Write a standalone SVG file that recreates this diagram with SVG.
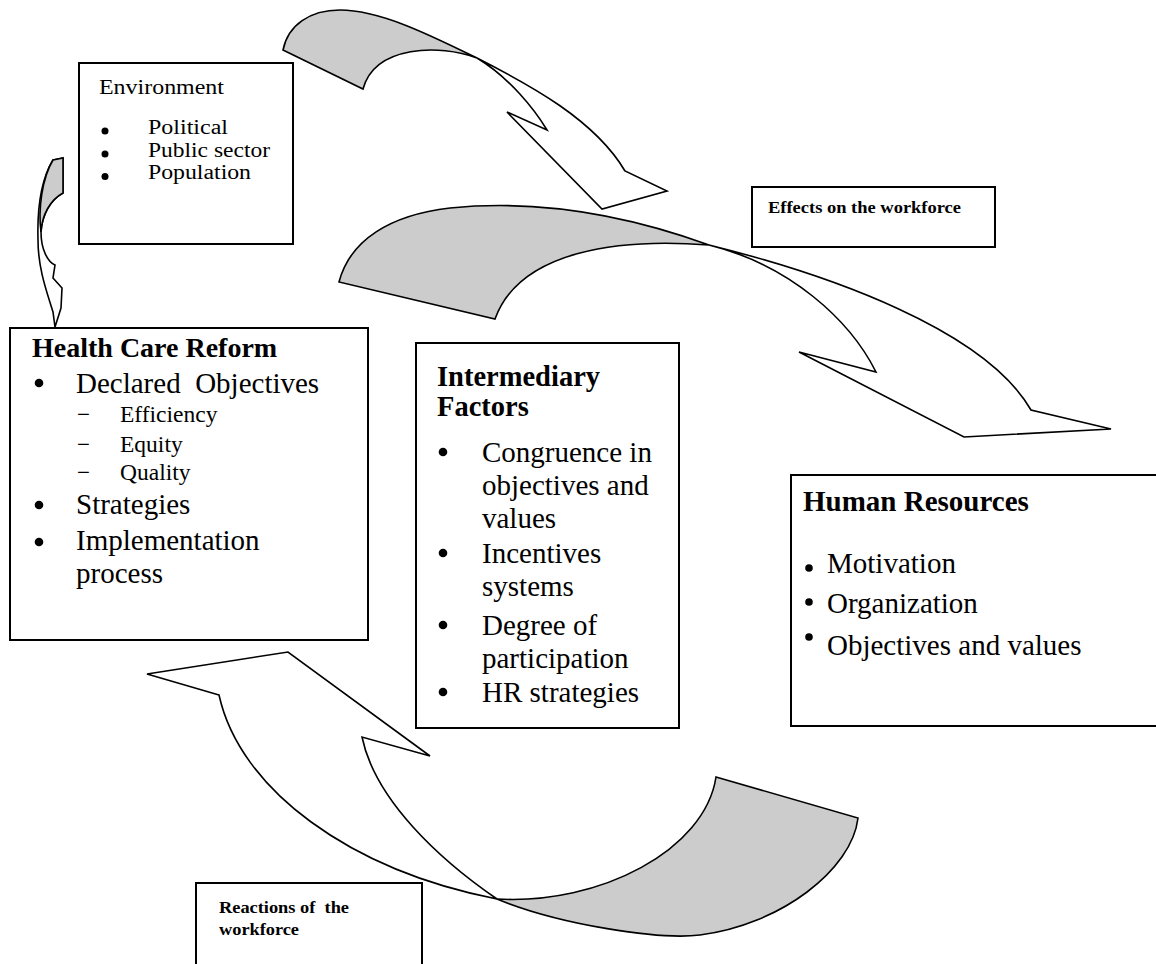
<svg xmlns="http://www.w3.org/2000/svg" width="1156" height="964" viewBox="0 0 1156 964">
<style>
.box{fill:#fff;stroke:#000;stroke-width:2}
.arw{fill:#fff;stroke:#000;stroke-width:1.6;stroke-linejoin:miter}
.back{fill:#cccccc;stroke:#000;stroke-width:1.6}
.t{font-family:"Liberation Serif","Times New Roman",serif;fill:#000}
.b{font-weight:bold}
.pre{white-space:pre}
</style>
<rect width="1156" height="964" fill="#fff"/>

<g id="environment">
<rect class="box" x="79" y="63" width="214" height="181"/>
<text class="t" x="99" y="94" font-size="20" textLength="125" lengthAdjust="spacingAndGlyphs">Environment</text>
<circle cx="105" cy="131" r="3.5"/><circle cx="105" cy="154" r="3.5"/><circle cx="105" cy="176.5" r="3.5"/>
<text class="t" x="148" y="134" font-size="20" textLength="80" lengthAdjust="spacingAndGlyphs">Political</text>
<text class="t" x="148" y="157" font-size="20" textLength="122" lengthAdjust="spacingAndGlyphs">Public sector</text>
<text class="t" x="148" y="179" font-size="20" textLength="103" lengthAdjust="spacingAndGlyphs">Population</text>
</g>

<g id="effects">
<rect class="box" x="752" y="187" width="243" height="60"/>
<text class="t b" x="768" y="213" font-size="16" textLength="193" lengthAdjust="spacingAndGlyphs">Effects on the workforce</text>
</g>

<g id="reactions">
<rect class="box" x="196" y="883" width="226" height="90"/>
<text class="t b pre" x="219" y="913" font-size="16" textLength="130" lengthAdjust="spacingAndGlyphs">Reactions of  the</text>
<text class="t b" x="219" y="935" font-size="16" textLength="80" lengthAdjust="spacingAndGlyphs">workforce</text>
</g>

<g id="health-care-reform">
<rect class="box" x="10" y="328" width="358" height="312"/>
<text class="t b" x="32" y="357" font-size="28">Health Care Reform</text>
<circle cx="39" cy="383" r="4.3"/><circle cx="39" cy="505" r="4.3"/><circle cx="39" cy="542" r="4.3"/>
<text class="t pre" x="76" y="393" font-size="29">Declared  Objectives</text>
<text class="t" x="77" y="422" font-size="23">−</text>
<text class="t" x="77" y="452" font-size="23">−</text>
<text class="t" x="77" y="480" font-size="23">−</text>
<text class="t" x="120" y="422" font-size="23.5">Efficiency</text>
<text class="t" x="120" y="452" font-size="23.5">Equity</text>
<text class="t" x="120" y="480" font-size="23.5">Quality</text>
<text class="t" x="76" y="514" font-size="29">Strategies</text>
<text class="t" x="76" y="550" font-size="29">Implementation</text>
<text class="t" x="76" y="583" font-size="29">process</text>
</g>

<g id="intermediary-factors">
<rect class="box" x="416" y="343" width="263" height="385"/>
<text class="t b" x="437" y="386" font-size="28.5">Intermediary</text>
<text class="t b" x="437" y="416" font-size="28.5">Factors</text>
<circle cx="443" cy="452" r="4.3"/><circle cx="443" cy="553" r="4.3"/><circle cx="443" cy="625" r="4.3"/><circle cx="443" cy="692" r="4.3"/>
<text class="t" x="482" y="462" font-size="29">Congruence in</text>
<text class="t" x="482" y="495" font-size="29">objectives and</text>
<text class="t" x="482" y="528" font-size="29">values</text>
<text class="t" x="482" y="563" font-size="29">Incentives</text>
<text class="t" x="482" y="596" font-size="29">systems</text>
<text class="t" x="482" y="635" font-size="29">Degree of</text>
<text class="t" x="482" y="668" font-size="29">participation</text>
<text class="t" x="482" y="702" font-size="29">HR strategies</text>
</g>

<g id="human-resources">
<rect class="box" x="791" y="475" width="370" height="251"/>
<text class="t b" x="803" y="511" font-size="29">Human Resources</text>
<circle cx="809" cy="568" r="3.8"/><circle cx="809" cy="602" r="3.8"/><circle cx="809" cy="637" r="3.8"/>
<text class="t" x="827" y="573" font-size="29">Motivation</text>
<text class="t" x="827" y="613" font-size="29">Organization</text>
<text class="t" x="827" y="655" font-size="29">Objectives and values</text>
</g>

<g id="connectors">
<path class="arw" d="M53,160 L63,158 L63,193 C50,200 42,215 41,232 C41,250 48,262 55,265 L53,278 L62,288 L61,308 L55,327 L53,312 C48,295 38,270 38,240 C37,205 42,178 53,160 Z"/>
<path class="back" d="M53,160 L63,158 L63,193 C50,200 42,215 41,232 C38,210 42,178 53,160 Z"/>

<path class="back" d="M283,50 C288,25 310,10 340,10 C380,10 430,35 477,58 C440,44 375,45 363,89 Z"/>
<path class="arw" d="M477,58 C530,85 595,120 625,171 L667,191 L602,209 L507,112 L547,130 C535,110 510,78 477,58 Z"/>

<path class="back" d="M339,282 C350,240 390,215 450,208 C550,198 640,220 709,245 C620,238 520,250 495,319 Z"/>
<path class="arw" d="M709,245 C830,275 985,330 1031,410 L1111,429 L964,437 L799,352 L876,372 C850,320 790,265 709,245 Z"/>

<path class="arw" d="M219,695 L147,674 L288,652 L430,756 L362,737 C375,800 440,860 497,899 C350,870 240,790 219,695 Z"/>
<path class="back" d="M497,899 C600,905 705,850 716,777 L858,818 C852,870 780,925 700,935 C660,940 560,925 497,899 Z"/>
</g>
</svg>
